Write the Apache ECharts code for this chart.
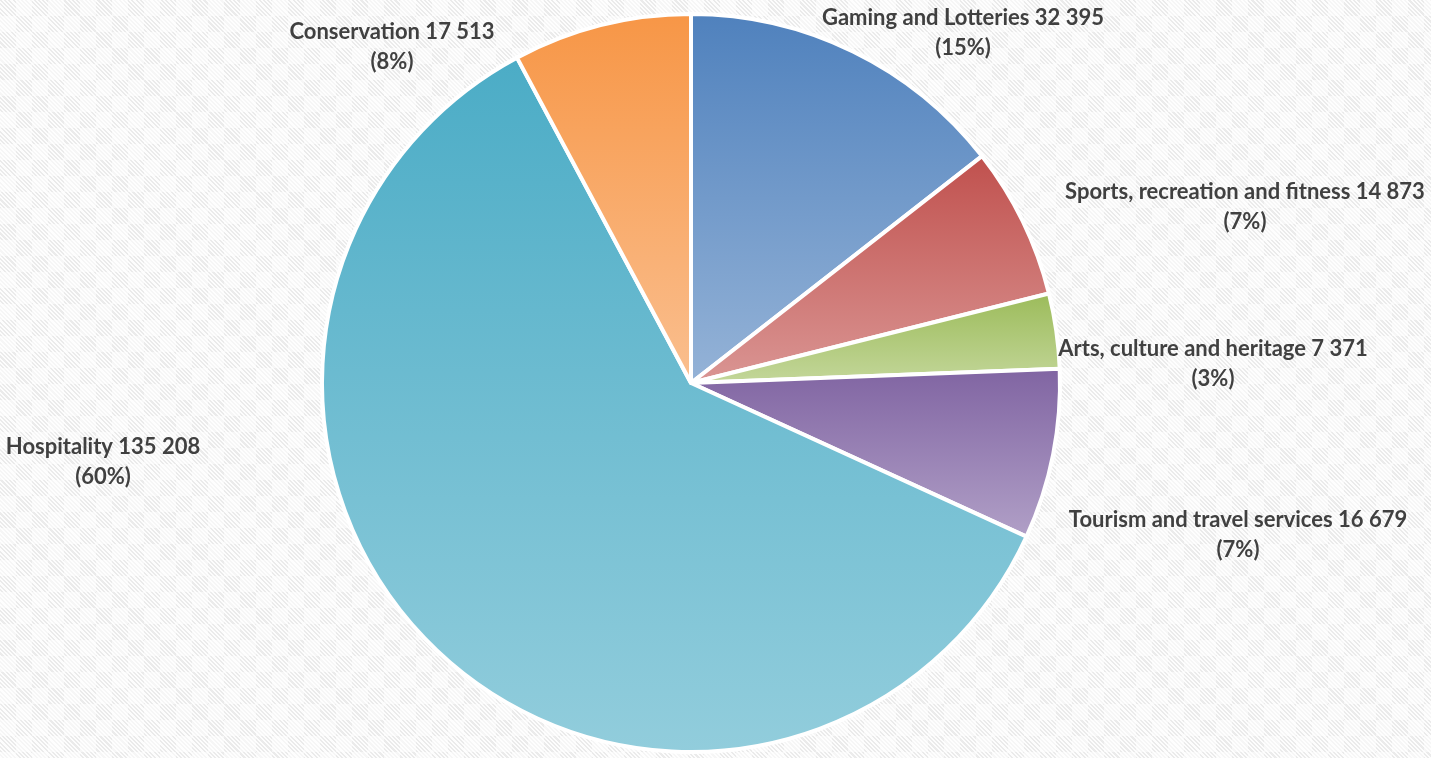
<!DOCTYPE html>
<html>
<head>
<meta charset="utf-8">
<title>Employment by sub-sector</title>
<script src="https://cdn.jsdelivr.net/npm/echarts@6/dist/echarts.min.js"></script>
<style>
  html, body { margin: 0; padding: 0; width: 1431px; height: 758px; overflow: hidden; }
  body {
    background-color: #ebebeb;
    background-image:
      repeating-linear-gradient(45deg, rgba(255,255,255,0.9) 0px, rgba(255,255,255,0.9) 1.5px, rgba(0,0,0,0) 1.5px, rgba(0,0,0,0) 3px),
      linear-gradient(45deg, rgba(255,255,255,0.55) 25%, rgba(0,0,0,0) 25%, rgba(0,0,0,0) 75%, rgba(255,255,255,0.55) 75%),
      linear-gradient(45deg, rgba(255,255,255,0.55) 25%, rgba(0,0,0,0) 25%, rgba(0,0,0,0) 75%, rgba(255,255,255,0.55) 75%);
    background-size: auto, 32px 32px, 32px 32px;
    background-position: 0 0, 0 0, 16px 16px;
  }
  #chart { width: 1431px; height: 758px; }
</style>
</head>
<body>
<div id="chart"></div>
<script>
// Sub-sectors, clockwise from twelve o'clock
const categories = [
  'Gaming and Lotteries',
  'Sports, recreation and fitness',
  'Arts, culture and heritage',
  'Tourism and travel services',
  'Hospitality',
  'Conservation'
];
const values = [32395, 14873, 7371, 16679, 135208, 17513];

// Slice fills: darker shade at the top, lighter at the bottom
const topColors = ['#4F81BD', '#C0504D', '#9BBB59', '#8064A2', '#4BACC6', '#F79646'];
const bottomColors = ['#95B3D7', '#DA9694', '#C4D79B', '#B1A0C7', '#92CDDC', '#FABF8F'];

// Where each two-line label sits (block centre, px)
const labelSpots = [
  [963, 33],
  [1245, 207],
  [1213, 364],
  [1238, 535],
  [103, 462],
  [392, 47]
];

function groupThousands(v) {
  return String(v).replace(/\B(?=(\d{3})+(?!\d))/g, ' ');
}

const chart = echarts.init(document.getElementById('chart'), null, { renderer: 'canvas' });

chart.setOption({
  backgroundColor: 'transparent',
  animation: false,
  series: [{
    type: 'pie',
    center: [691, 383],
    radius: [0, 369],
    startAngle: 90,
    clockwise: true,
    percentPrecision: 0,
    avoidLabelOverlap: false,
    data: categories.map((name, i) => ({
      name: name,
      value: values[i],
      itemStyle: {
        color: new echarts.graphic.LinearGradient(0, 0, 0, 1, [
          { offset: 0, color: topColors[i] },
          { offset: 1, color: bottomColors[i] }
        ])
      }
    })),
    itemStyle: { borderColor: '#ffffff', borderWidth: 4 },
    label: {
      show: true,
      position: 'outside',
      formatter: p => p.name + ' ' + groupThousands(p.value) + '\n(' + p.percent + '%)',
      fontFamily: 'Lato',
      fontWeight: 'bold',
      fontSize: 22,
      lineHeight: 30,
      color: '#404040'
    },
    labelLine: { show: false },
    labelLayout: function (params) {
      const s = labelSpots[params.dataIndex];
      return { x: s[0], y: s[1], align: 'center', verticalAlign: 'middle', hideOverlap: false };
    },
    emphasis: { disabled: true }
  }]
});
</script>
</body>
</html>
